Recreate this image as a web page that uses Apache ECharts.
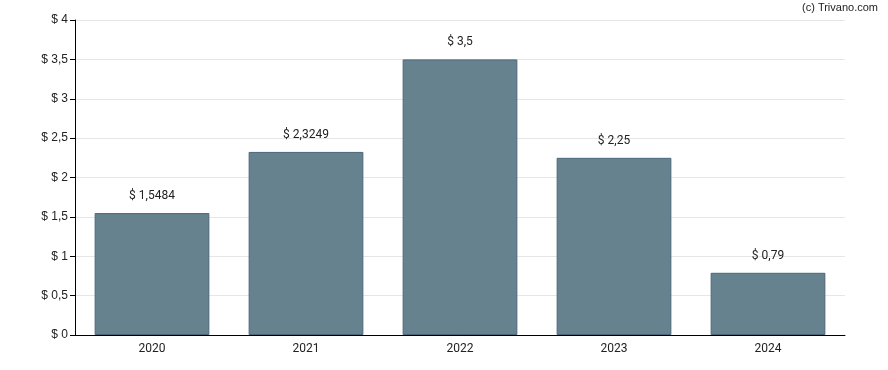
<!DOCTYPE html>
<html><head><meta charset="utf-8">
<script src="https://cdn.jsdelivr.net/npm/echarts@6/dist/echarts.min.js"></script>
<style>html,body{margin:0;padding:0;background:#fff}#c{width:888px;height:370px}</style>
</head><body><div id="c"></div>
<script>
const categories = ['2020','2021','2022','2023','2024'];
const values = [1.5484, 2.3249, 3.5, 2.25, 0.79];
const yTicks = [0, 0.5, 1, 1.5, 2, 2.5, 3, 3.5, 4];

const fmt = v => '$ ' + String(v).replace('.', ',');
const chart = echarts.init(document.getElementById('c'), null, {renderer:'canvas'});
chart.setOption({
  animation: false,
  grid: {left: 75, right: 43, top: 20, bottom: 35, containLabel: false},
  graphic: [{type:'text', right: 10, top: 2, style:{text:'(c) Trivano.com', font:'11px "Liberation Sans", Arial', fill:'#222'}}],
  xAxis: {
    type: 'category', data: categories,
    axisLine: {lineStyle:{color:'#000', width:1}},
    axisTick: {alignWithLabel:true, length:5, lineStyle:{color:'#000'}},
    axisLabel: {color:'#222', fontFamily:'Roboto', fontSize:12, margin:8}
  },
  yAxis: {
    type: 'value', min: yTicks[0], max: yTicks[yTicks.length-1], interval: 0.5,
    axisLine: {show:true, lineStyle:{color:'#000', width:1}},
    axisTick: {show:true, length:5, lineStyle:{color:'#000'}},
    splitLine: {lineStyle:{color:'#e6e6e6'}},
    axisLabel: {color:'#222', fontFamily:'"Liberation Sans", Arial', fontSize:12, margin:7, formatter: fmt}
  },
  series: [{
    type: 'bar', data: values, barWidth: '74.5%',
    itemStyle: {color:'#67828f', borderColor:'#4b667b', borderWidth:1},
    label: {show:true, position:'top', distance:11, color:'#222', fontFamily:'Roboto', fontSize:12, formatter: p => fmt(p.value)}
  }]
});
</script></body></html>
